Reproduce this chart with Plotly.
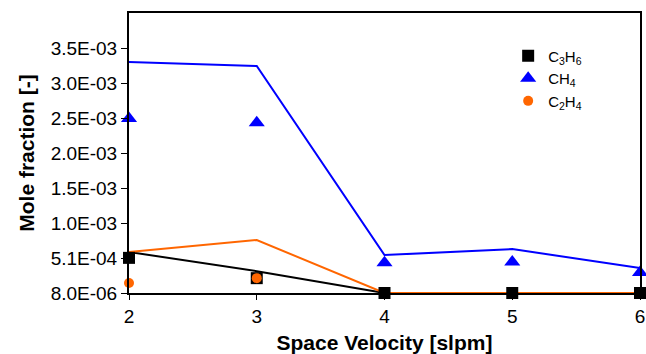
import plotly.graph_objects as go

# Space velocity [slpm]
velocity = [2, 3, 4, 5, 6]

# Model lines
c3h6_model = [5.94e-4, 3.2e-4, 8.0e-6, 8.0e-6, 8.0e-6]
ch4_model = [3.308e-3, 3.25e-3, 5.5e-4, 6.36e-4, 3.65e-4]
c2h4_model = [5.94e-4, 7.65e-4, 8.0e-6, 8.0e-6, 8.0e-6]

# Measured points
c3h6_meas = [5.1e-4, 2.2e-4, 8.0e-6, 8.0e-6, 8.0e-6]
ch4_meas = [2.5e-3, 2.44e-3, 4.4e-4, 4.5e-4, 3.0e-4]
c2h4_meas = [1.5e-4, 2.2e-4, None, None, None]

y_tick_vals = [8.0e-6, 5.08e-4, 1.008e-3, 1.508e-3, 2.008e-3, 2.508e-3, 3.008e-3, 3.508e-3]
y_tick_text = ["8.0E-06", "5.1E-04", "1.0E-03", "1.5E-03", "2.0E-03", "2.5E-03", "3.0E-03", "3.5E-03"]

BLUE = "#0000FF"
ORANGE = "#FF6600"
BLACK = "#000000"

fig = go.Figure()

# lines
fig.add_trace(go.Scatter(x=velocity, y=ch4_model, mode="lines", line=dict(color=BLUE, width=2),
                         showlegend=False, cliponaxis=False))
fig.add_trace(go.Scatter(x=velocity, y=c3h6_model, mode="lines", line=dict(color=BLACK, width=2),
                         showlegend=False, cliponaxis=False))
fig.add_trace(go.Scatter(x=velocity, y=c2h4_model, mode="lines", line=dict(color=ORANGE, width=2),
                         showlegend=False, cliponaxis=False))

# markers
fig.add_trace(go.Scatter(x=velocity, y=c3h6_meas, mode="markers", name="C<sub>3</sub>H<sub>6</sub>",
                         marker=dict(symbol="square", size=12, color=BLACK), cliponaxis=False))
fig.add_trace(go.Scatter(x=velocity, y=ch4_meas, mode="markers", name="CH<sub>4</sub>",
                         marker=dict(symbol="triangle-up", size=14, color=BLUE), cliponaxis=False))
fig.add_trace(go.Scatter(x=velocity, y=c2h4_meas, mode="markers", name="C<sub>2</sub>H<sub>4</sub>",
                         marker=dict(symbol="circle", size=10, color=ORANGE), cliponaxis=False))

fig.update_layout(
    width=646, height=354,
    margin=dict(l=129, r=6, t=13, b=61),
    paper_bgcolor="white", plot_bgcolor="white",
    font=dict(family="Liberation Sans, Arial, sans-serif", color="black"),
    legend=dict(x=0.742, y=0.905, xanchor="left", yanchor="top",
                bgcolor="rgba(0,0,0,0)", font=dict(size=15), tracegroupgap=0),
)

fig.update_xaxes(
    range=[2, 6], tickvals=velocity, ticktext=[str(v) for v in velocity],
    showgrid=False, zeroline=False,
    showline=True, linecolor="black", linewidth=2, mirror=True,
    ticks="outside", ticklen=5, tickcolor="black", tickwidth=1,
    tickfont=dict(size=19),
    title=dict(text="<b>Space Velocity [slpm]</b>", font=dict(size=21), standoff=10),
    automargin=False,
)
fig.update_yaxes(
    range=[8.0e-6, 4.008e-3], tickvals=y_tick_vals, ticktext=y_tick_text,
    showgrid=False, zeroline=False,
    showline=True, linecolor="black", linewidth=2, mirror=True,
    ticks="outside", ticklen=6, tickcolor="black", tickwidth=1,
    tickfont=dict(size=19),
    title=dict(text="<b>Mole fraction [-]</b>", font=dict(size=21), standoff=10),
    automargin=False,
)

fig.write_html("out.html")
